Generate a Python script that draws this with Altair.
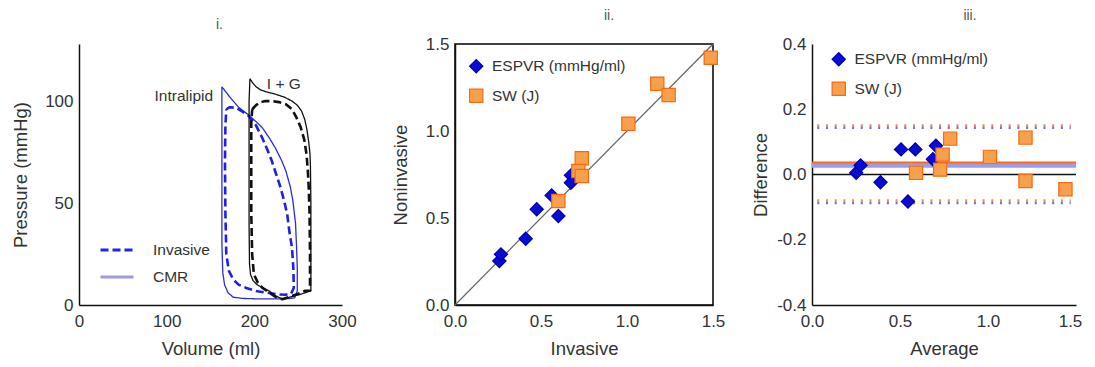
import altair as alt
import pandas as pd

FONT = "Liberation Sans"
TXT = "#333333"

# ---------------- panel i: pressure-volume loops ----------------
il_cmr_vol = [163, 172, 182, 194, 203, 209, 217, 224, 231, 236, 241, 244, 247, 248, 249, 249,
              246, 236, 222, 205, 188, 176, 170, 166, 164, 163, 163, 163, 163]
il_cmr_pres = [107, 102, 97, 93, 89.5, 87, 82, 77, 71, 65.7, 58, 51, 40, 30, 18, 7,
               3.5, 3, 3, 3, 3.2, 3.8, 6, 10, 16, 30, 60, 90, 107]

il_inv_vol = [168, 172, 179, 186, 194, 202, 209, 215, 220, 225, 230, 234, 237.5, 240, 243, 244.5, 245,
              242, 235, 228, 215, 201, 190, 182, 176, 171, 168, 167, 166.5, 167, 168]
il_inv_pres = [96, 97, 96.7, 95, 92.6, 88, 82, 76, 70.6, 64, 57.5, 51, 44.5, 36, 28, 18, 8.5,
               5.5, 5, 5.2, 6, 6.9, 8.5, 10, 12.5, 16.7, 25, 45, 70, 88, 96]

ig_cmr_vol = [195, 198, 202, 207, 214, 223, 234, 243, 249, 254, 257.5, 260, 262, 263.5, 264, 264.5,
              264.5, 264.5, 258, 251, 242, 232, 224, 216.6, 209, 203, 198.5, 195.7, 194.5, 194, 194, 194, 195]
ig_cmr_pres = [111, 109, 107, 105.5, 104.5, 103.5, 102, 100, 98, 95, 91, 86, 80, 74, 68, 50,
               25, 7, 6, 5, 4, 3, 4.5, 7, 8.5, 10, 12, 15, 20, 40, 70, 100, 111]

ig_inv_vol = [197.6, 202, 207, 212.8, 220, 228, 236, 243, 248, 253, 257, 259.5, 261, 262, 263, 263.5, 263.5,
              258, 253, 247, 240, 232, 226, 220, 214, 209, 204, 199.5, 197.5, 196.5, 196.5, 196.5, 197.6]
ig_inv_pres = [96, 98, 99.5, 100, 100, 99.5, 98.5, 96, 92, 87, 81, 74, 66, 58, 45, 25, 7,
               7, 6, 5, 4, 2.8, 3.5, 5.2, 7, 8.5, 11, 15, 25, 45, 70, 90, 96]

loop_names = ["Intralipid CMR", "Intralipid Invasive", "I+G CMR", "I+G Invasive"]
loop_methods = ["CMR", "Invasive", "CMR", "Invasive"]
loop_colors = ["#2b2be2", "#1f1fe8", "#111111", "#111111"]
legend_methods = ["Invasive", "CMR"]
legend_colors = ["#2424ec", "#9c9ce6"]

vol_ticks = [0, 100, 200, 300]
pres_ticks = [0, 50, 100]

ann_text = ["Intralipid", "I + G"]
ann_vol = [153, 253]
ann_pres = [102.5, 108.5]

rows = []
for name, method, vols, press in zip(
        loop_names, loop_methods,
        [il_cmr_vol, il_inv_vol, ig_cmr_vol, ig_inv_vol],
        [il_cmr_pres, il_inv_pres, ig_cmr_pres, ig_inv_pres]):
    for k, (v, p) in enumerate(zip(vols, press)):
        rows.append({"loop": name, "method": method, "vol": v, "pres": p, "idx": k})
loops_df = pd.DataFrame(rows)

XPAD = dict(labelPadding=8, titlePadding=10, labelFlush=False)
YPAD = dict(labelPadding=6, labelFlush=False)
HYPHEN = "replace(datum.label, '\u2212', '-')"

x_i = alt.X("vol:Q", scale=alt.Scale(domain=[0, 300], nice=False),
            axis=alt.Axis(values=vol_ticks, title="Volume (ml)", **XPAD))
y_i = alt.Y("pres:Q", scale=alt.Scale(domain=[0, 128], nice=False),
            axis=alt.Axis(values=pres_ticks, title="Pressure (mmHg)", titlePadding=14.5, **YPAD))

loops = alt.Chart(loops_df).mark_line(strokeJoin="round").encode(
    x=x_i, y=y_i, order="idx:Q",
    color=alt.Color("loop:N", scale=alt.Scale(domain=loop_names, range=loop_colors), legend=None),
    strokeDash=alt.StrokeDash("method:N", scale=alt.Scale(domain=legend_methods, range=[[8, 4], [1, 0]]), legend=None),
    strokeWidth=alt.StrokeWidth("method:N", scale=alt.Scale(domain=legend_methods, range=[2.6, 1.3]), legend=None),
)

leg_i = alt.Legend(title=None, orient="none", legendX=20, legendY=188, symbolType="stroke",
                   symbolSize=1089, symbolStrokeWidth=3, labelFontSize=15.5, labelColor=TXT,
                   rowPadding=-8.5, labelOffset=18, direction="vertical")
leg_df = pd.DataFrame({"method": legend_methods, "vol": [None, None], "pres": [None, None]})
legend_i = alt.Chart(leg_df).mark_line().encode(
    x="vol:Q", y="pres:Q",
    color=alt.Color("method:N", scale=alt.Scale(domain=legend_methods, range=legend_colors), legend=leg_i),
    strokeDash=alt.StrokeDash("method:N", scale=alt.Scale(domain=legend_methods, range=[[8, 4], [1, 0]]), legend=leg_i),
)

ann_df = pd.DataFrame({"t": ann_text, "vol": ann_vol, "pres": ann_pres})
ann_i = alt.Chart(ann_df).mark_text(align="right", baseline="middle", fontSize=15.5, color=TXT).encode(
    x="vol:Q", y="pres:Q", text="t:N")

p1 = alt.layer(loops, legend_i, ann_i).resolve_scale(
    color="independent", strokeDash="independent", strokeWidth="independent"
).properties(width=263, height=261,
             title=alt.TitleParams("i.", anchor="middle", dx=9, offset=12, fontSize=14,
                                   fontWeight="normal", color="#555555"))

# ---------------- panel ii: noninvasive vs invasive ----------------
measures = ["ESPVR (mmHg/ml)", "SW (J)"]
espvr_inv = [0.258, 0.267, 0.411, 0.475, 0.562, 0.601, 0.674, 0.674]
espvr_non = [0.253, 0.291, 0.381, 0.550, 0.630, 0.511, 0.745, 0.703]
sw_inv = [0.601, 0.737, 0.717, 0.737, 1.008, 1.176, 1.242, 1.487]
sw_non = [0.598, 0.843, 0.770, 0.741, 1.042, 1.272, 1.207, 1.421]
diag_x = [0.0, 1.5]
diag_y = [0.0, 1.5]
ticks_15 = [0, 0.5, 1.0, 1.5]

fill_range = ["#0b0bd6", "#f9a04c"]
stroke_range = ["#0000a8", "#f56a12"]
shape_range = ["diamond", "square"]

df2 = pd.DataFrame({
    "measure": [measures[0]] * len(espvr_inv) + [measures[1]] * len(sw_inv),
    "inv": espvr_inv + sw_inv,
    "non": espvr_non + sw_non,
})


def pt_legend(lx, ly):
    return alt.Legend(title=None, orient="none", legendX=lx, legendY=ly, symbolSize=175,
                      symbolStrokeWidth=1.2, labelFontSize=15.5, labelColor=TXT,
                      rowPadding=10.5, labelOffset=8, direction="vertical")


leg2 = pt_legend(13.5, 14.5)
diag_df = pd.DataFrame({"inv": diag_x, "non": diag_y})
x_ii = alt.X("inv:Q", scale=alt.Scale(domain=[0, 1.5], nice=False),
             axis=alt.Axis(values=ticks_15, format=".1f", title="Invasive", **XPAD))
y_ii = alt.Y("non:Q", scale=alt.Scale(domain=[0, 1.5], nice=False),
             axis=alt.Axis(values=ticks_15, format=".1f", title="Noninvasive", titlePadding=15, **YPAD))
diag = alt.Chart(diag_df).mark_line(color="#666666", strokeWidth=1.2).encode(x=x_ii, y=y_ii)
pts2 = alt.Chart(df2).mark_point(filled=True, opacity=1, size=175, strokeWidth=1.2).encode(
    x="inv:Q", y="non:Q",
    shape=alt.Shape("measure:N", scale=alt.Scale(domain=measures, range=shape_range), legend=leg2),
    fill=alt.Fill("measure:N", scale=alt.Scale(domain=measures, range=fill_range), legend=leg2),
    stroke=alt.Stroke("measure:N", scale=alt.Scale(domain=measures, range=stroke_range), legend=leg2),
)
p2 = alt.layer(diag, pts2).properties(
    width=258, height=261, view=alt.ViewBackground(stroke="black", strokeWidth=1.5),
    title=alt.TitleParams("ii.", anchor="middle", dx=25, offset=12, fontSize=14,
                          fontWeight="normal", color="#555555"))

# ---------------- panel iii: Bland-Altman ----------------
espvr_avg = [0.251, 0.276, 0.389, 0.506, 0.587, 0.545, 0.687, 0.704]
espvr_diff = [0.005, 0.028, -0.024, 0.077, 0.077, -0.083, 0.047, 0.088]
sw_avg = [0.591, 0.728, 0.742, 0.785, 1.011, 1.213, 1.213, 1.44]
sw_diff = [0.005, 0.015, 0.061, 0.110, 0.054, 0.113, -0.020, -0.045]
diff_ticks = [-0.4, -0.2, 0.0, 0.2, 0.4]

mean_orange = 0.037
mean_blue = 0.028
loa_orange = [0.150, -0.080]
loa_blue = [0.143, -0.087]
loa_x = [0.03, 1.47]

df3 = pd.DataFrame({
    "measure": [measures[0]] * len(espvr_avg) + [measures[1]] * len(sw_avg),
    "avg": espvr_avg + sw_avg,
    "diff": espvr_diff + sw_diff,
})
x_iii = alt.X("avg:Q", scale=alt.Scale(domain=[0, 1.5], nice=False),
              axis=alt.Axis(values=ticks_15, format=".1f", title="Average",
                            labelOffset={"condition": {"test": "datum.value >= 1.5", "value": -6}, "value": 0},
                            **XPAD))
y_iii = alt.Y("diff:Q", scale=alt.Scale(domain=[-0.4, 0.4], nice=False),
              axis=alt.Axis(values=diff_ticks, format=".1f", labelExpr=HYPHEN,
                            title="Difference", titlePadding=6, **YPAD))

zero_df = pd.DataFrame({"diff": [0.0]})
zero_rule = alt.Chart(zero_df).mark_rule(color="#111111", strokeWidth=1.5).encode(y=y_iii)
mb_rule = alt.Chart(pd.DataFrame({"diff": [mean_blue]})).mark_rule(
    color="#9c9ce8", strokeWidth=5).encode(y="diff:Q")
mo_rule = alt.Chart(pd.DataFrame({"diff": [mean_orange]})).mark_rule(
    color="#ff6a10", strokeWidth=2).encode(y="diff:Q")
loa_o_df = pd.DataFrame({"diff": loa_orange, "x0": [loa_x[0]] * 2, "x1": [loa_x[1]] * 2})
loa_b_df = pd.DataFrame({"diff": loa_blue, "x0": [loa_x[0]] * 2, "x1": [loa_x[1]] * 2})
loa_o = alt.Chart(loa_o_df).mark_rule(color="#f58a40", strokeWidth=2.5, strokeDash=[2, 6.7]).encode(
    y="diff:Q", x="x0:Q", x2="x1:Q")
loa_b = alt.Chart(loa_b_df).mark_rule(color="#6f6fe0", strokeWidth=2.5, strokeDash=[2, 6.7]).encode(
    y="diff:Q", x="x0:Q", x2="x1:Q")

leg3 = pt_legend(19, 7.5)
pts3 = alt.Chart(df3).mark_point(filled=True, opacity=1, size=175, strokeWidth=1.2).encode(
    x=x_iii, y="diff:Q",
    shape=alt.Shape("measure:N", scale=alt.Scale(domain=measures, range=shape_range), legend=leg3),
    fill=alt.Fill("measure:N", scale=alt.Scale(domain=measures, range=fill_range), legend=leg3),
    stroke=alt.Stroke("measure:N", scale=alt.Scale(domain=measures, range=stroke_range), legend=leg3),
)
p3 = alt.layer(zero_rule, mb_rule, mo_rule, loa_o, loa_b, pts3).properties(
    width=264, height=261,
    title=alt.TitleParams("iii.", anchor="middle", dx=26, offset=12, fontSize=14,
                          fontWeight="normal", color="#555555"))

ind = dict(color="independent", fill="independent", stroke="independent", shape="independent",
           strokeDash="independent", strokeWidth="independent")
ind_leg = dict(color="independent", fill="independent", stroke="independent", shape="independent",
               strokeDash="independent")
inner = alt.hconcat(p1, p2, spacing=33).resolve_scale(**ind).resolve_legend(**ind_leg)
chart = alt.hconcat(inner, p3, spacing=25).resolve_scale(**ind).resolve_legend(**ind_leg).properties(
    padding={"left": 3, "top": 0, "right": 0, "bottom": 0}
).configure(font=FONT).configure_view(stroke=None).configure_axis(
    domainColor="#111111", domainWidth=1.5, ticks=False, grid=False,
    labelFont=FONT, labelFontSize=17, labelColor=TXT,
    titleFont=FONT, titleFontSize=18.5, titleFontWeight="normal", titleColor=TXT,
)

chart.save("out.html", embed_options={"renderer": "svg", "actions": False})
